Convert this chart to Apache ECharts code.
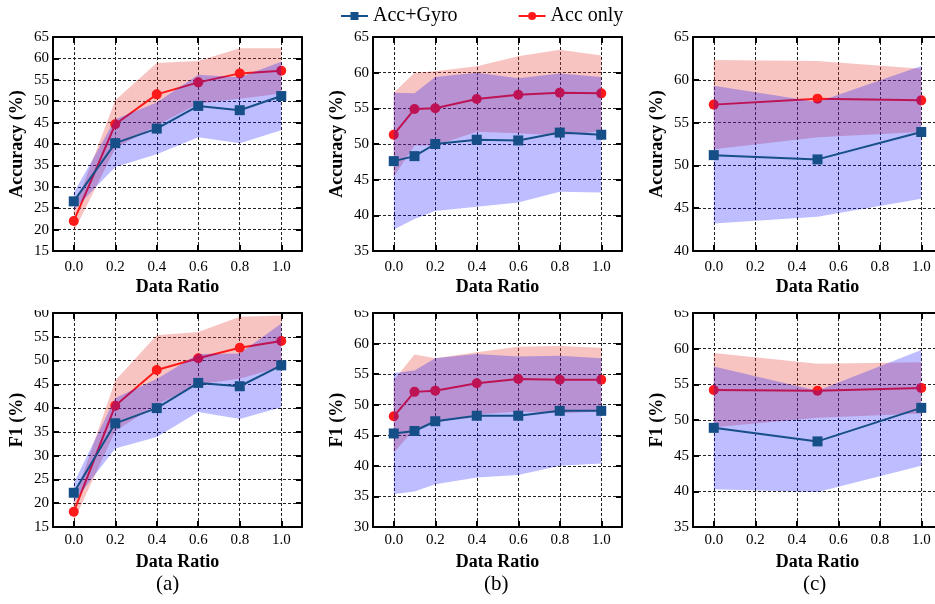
<!DOCTYPE html>
<html>
<head>
<meta charset="utf-8">
<title>Accuracy / F1 vs data ratio</title>
<script src="https://cdn.jsdelivr.net/npm/echarts@6/dist/echarts.min.js"></script>
<style>
  html, body { margin: 0; padding: 0; background: #fff; }
  #chart { width: 935px; height: 604px; }
</style>
</head>
<body>
<div id="chart"></div>
<script>
// --- Data ---

const ratioSix = [0.0, 0.2, 0.4, 0.6, 0.8, 1.0]
const ratioSeven = [0.0, 0.1, 0.2, 0.4, 0.6, 0.8, 1.0]
const ratioThree = [0.0, 0.5, 1.0]
const xTicks = [0.0, 0.2, 0.4, 0.6, 0.8, 1.0]

// (a) accuracy
const accA_gyro = [26.6, 40.2, 43.6, 48.9, 47.9, 51.2]
const accA_gyroLo = [24.6, 34.6, 37.6, 41.6, 40.2, 43.2]
const accA_gyroHi = [28.6, 45.8, 49.7, 56.2, 55.6, 59.2]
const accA_acc = [22.0, 44.6, 51.6, 54.4, 56.5, 57.1]
const accA_accLo = [19.5, 39.0, 44.3, 49.4, 50.6, 51.8]
const accA_accHi = [24.5, 50.2, 58.9, 59.4, 62.4, 62.4]

// (b) accuracy
const accB_gyro = [47.6, 48.3, 50.0, 50.6, 50.5, 51.6, 51.3]
const accB_gyroLo = [38.0, 39.5, 40.6, 41.2, 41.8, 43.3, 43.2]
const accB_gyroHi = [57.2, 57.1, 59.4, 60.0, 59.2, 59.9, 59.4]
const accB_acc = [51.3, 54.9, 55.0, 56.3, 56.9, 57.2, 57.1]
const accB_accLo = [45.4, 49.8, 49.8, 51.7, 51.5, 51.2, 51.8]
const accB_accHi = [57.2, 60.0, 60.2, 60.9, 62.3, 63.2, 62.4]

// (c) accuracy
const accC_gyro = [51.2, 50.7, 53.9]
const accC_gyroLo = [43.2, 44.0, 46.1]
const accC_gyroHi = [59.3, 57.4, 61.6]
const accC_acc = [57.1, 57.8, 57.6]
const accC_accLo = [51.9, 53.3, 53.9]
const accC_accHi = [62.3, 62.2, 61.3]

// (a) F1
const f1A_gyro = [22.2, 36.8, 40.0, 45.3, 44.6, 49.0]
const f1A_gyroLo = [20.2, 31.5, 33.9, 39.2, 37.7, 40.2]
const f1A_gyroHi = [24.2, 42.1, 46.1, 51.4, 51.5, 57.8]
const f1A_acc = [18.2, 40.5, 48.0, 50.5, 52.7, 54.1]
const f1A_accLo = [16.2, 35.2, 40.7, 45.0, 46.2, 48.7]
const f1A_accHi = [20.4, 45.8, 55.3, 56.0, 59.2, 59.5]

// (b) F1
const f1B_gyro = [45.3, 45.7, 47.3, 48.2, 48.2, 49.0, 49.0]
const f1B_gyroLo = [35.4, 35.8, 37.0, 38.1, 38.5, 40.0, 40.4]
const f1B_gyroHi = [55.2, 55.6, 57.6, 58.3, 57.9, 58.0, 57.6]
const f1B_acc = [48.1, 52.1, 52.3, 53.5, 54.2, 54.1, 54.1]
const f1B_accLo = [42.2, 46.0, 47.0, 48.4, 48.9, 48.6, 48.9]
const f1B_accHi = [54.0, 58.2, 57.6, 58.6, 59.5, 59.6, 59.3]

// (c) F1
const f1C_gyro = [48.9, 47.0, 51.7]
const f1C_gyroLo = [40.3, 39.9, 43.6]
const f1C_gyroHi = [57.5, 54.1, 59.8]
const f1C_acc = [54.2, 54.1, 54.5]
const f1C_accLo = [49.0, 50.3, 50.9]
const f1C_accHi = [59.4, 57.9, 58.1]

const panels = [
  { x: ratioSix, yMin: 15, yMax: 65, yName: 'Accuracy (%)', g: accA_gyro, gLo: accA_gyroLo, gHi: accA_gyroHi, a: accA_acc, aLo: accA_accLo, aHi: accA_accHi },
  { x: ratioSeven, yMin: 35, yMax: 65, yName: 'Accuracy (%)', g: accB_gyro, gLo: accB_gyroLo, gHi: accB_gyroHi, a: accB_acc, aLo: accB_accLo, aHi: accB_accHi },
  { x: ratioThree, yMin: 40, yMax: 65, yName: 'Accuracy (%)', g: accC_gyro, gLo: accC_gyroLo, gHi: accC_gyroHi, a: accC_acc, aLo: accC_accLo, aHi: accC_accHi },
  { x: ratioSix, yMin: 15, yMax: 60, yName: 'F1 (%)', g: f1A_gyro, gLo: f1A_gyroLo, gHi: f1A_gyroHi, a: f1A_acc, aLo: f1A_accLo, aHi: f1A_accHi },
  { x: ratioSeven, yMin: 30, yMax: 65, yName: 'F1 (%)', g: f1B_gyro, gLo: f1B_gyroLo, gHi: f1B_gyroHi, a: f1B_acc, aLo: f1B_accLo, aHi: f1B_accHi },
  { x: ratioThree, yMin: 35, yMax: 65, yName: 'F1 (%)', g: f1C_gyro, gLo: f1C_gyroLo, gHi: f1C_gyroHi, a: f1C_acc, aLo: f1C_accLo, aHi: f1C_accHi },
]

// --- Layout / style ---
const GRID_LEFT = [53, 373, 693]
const GRID_TOP = [37, 313]
const GRID_W = 249
const GRID_H = 214
const SERIF = '"Liberation Serif", "Times New Roman", serif'
const BLUE = '#164f88'
const RED = '#ff1a1a'
const BLUE_BAND = 'rgba(0, 0, 255, 0.26)'
const RED_BAND = 'rgba(230, 60, 50, 0.3)'

const tickStyle = { inside: true, length: 6, lineStyle: { color: '#000', width: 2 } }
const lineAxis = { onZero: false, lineStyle: { color: '#000', width: 2 } }
const dashed = { show: true, lineStyle: { color: '#222', width: 1, type: [3, 2] } }
const titleFont = { fontFamily: SERIF, fontWeight: 'bold', fontSize: 18, color: '#000' }

// Band between lower and upper curves, drawn as one polygon via the axes
const bandSeries = (xs, lo, hi, color, axisIdx, z) => ({
  type: 'custom',
  xAxisIndex: axisIdx,
  yAxisIndex: axisIdx,
  z,
  silent: true,
  clip: true,
  data: xs.map((x, k) => [x, lo[k], hi[k]]),
  encode: { x: 0, y: [1, 2] },
  renderItem: (params, api) => {
    if (params.dataIndex !== 0) return
    const pts = []
    xs.forEach((x, k) => pts.push(api.coord([x, lo[k]])))
    for (let k = xs.length - 1; k >= 0; k--) pts.push(api.coord([xs[k], hi[k]]))
    return { type: 'polygon', shape: { points: pts }, style: { fill: color } }
  },
})

const lineSeries = (name, xs, ys, color, symbol, axisIdx, z) => ({
  name,
  type: 'line',
  xAxisIndex: axisIdx,
  yAxisIndex: axisIdx,
  z,
  data: xs.map((x, k) => [x, ys[k]]),
  symbol,
  symbolSize: 10,
  showSymbol: true,
  lineStyle: { color, width: 2 },
  itemStyle: { color },
})

const grid = []
const xAxis = []
const yAxis = []
const series = []

panels.forEach((p, i) => {
  const col = i % 3
  const row = Math.floor(i / 3)
  grid.push({
    left: GRID_LEFT[col],
    top: GRID_TOP[row],
    width: GRID_W,
    height: GRID_H,
    outerBoundsMode: 'none',
  })

  // bottom + top x axes
  xAxis.push({
    gridIndex: i,
    type: 'value',
    min: -0.1,
    max: 1.1,
    name: 'Data Ratio',
    nameLocation: 'middle',
    nameGap: row === 0 ? 27 : 26,
    nameTextStyle: titleFont,
    axisLine: lineAxis,
    axisTick: { ...tickStyle, customValues: xTicks },
    axisLabel: {
      customValues: xTicks,
      formatter: (v) => v.toFixed(1),
      fontFamily: SERIF,
      fontSize: 15,
      color: '#000',
      margin: row === 0 ? 9 : 6,
    },
    splitLine: dashed,
  })
  xAxis.push({
    gridIndex: i,
    type: 'value',
    position: 'top',
    min: -0.1,
    max: 1.1,
    axisLine: lineAxis,
    axisTick: { ...tickStyle, customValues: xTicks },
    axisLabel: { show: false },
    splitLine: { show: false },
  })

  // left + right y axes
  yAxis.push({
    gridIndex: i,
    type: 'value',
    min: p.yMin,
    max: p.yMax,
    interval: 5,
    name: p.yName,
    nameLocation: 'middle',
    nameGap: 27,
    nameTextStyle: titleFont,
    axisLine: lineAxis,
    axisTick: tickStyle,
    axisLabel: { fontFamily: SERIF, fontSize: 15, color: '#000', margin: 4 },
    splitLine: dashed,
  })
  yAxis.push({
    gridIndex: i,
    type: 'value',
    position: 'right',
    min: p.yMin,
    max: p.yMax,
    interval: 5,
    axisLine: lineAxis,
    axisTick: tickStyle,
    axisLabel: { show: false },
    splitLine: { show: false },
  })

  const ax = 2 * i
  // draw order: red band, red line, blue band, blue line
  series.push(bandSeries(p.x, p.aLo, p.aHi, RED_BAND, ax, 1))
  series.push(lineSeries('Acc only', p.x, p.a, RED, 'circle', ax, 2))
  series.push(bandSeries(p.x, p.gLo, p.gHi, BLUE_BAND, ax, 3))
  series.push(lineSeries('Acc+Gyro', p.x, p.g, BLUE, 'rect', ax, 4))
})

const captions = ['(a)', '(b)', '(c)']
const captionX = [168, 496, 815]

const graphic = []
captions.forEach((c, k) => {
  graphic.push({
    type: 'text',
    left: captionX[k] - 12,
    top: 574,
    style: { text: c, font: '21px ' + SERIF, fill: '#000' },
  })
  // the lower row is cut off at the top in the original figure
  graphic.push({
    type: 'rect',
    z: 100,
    shape: { x: GRID_LEFT[k] - 40, y: 296, width: 38, height: 14 },
    style: { fill: '#fff' },
  })
})

const chart = echarts.init(document.getElementById('chart'), null, { renderer: 'canvas' })
chart.setOption({
  animation: false,
  backgroundColor: '#fff',
  legend: {
    data: ['Acc+Gyro', 'Acc only'],
    left: 335,
    top: 1,
    itemWidth: 27,
    itemHeight: 10,
    itemGap: 60,
    textStyle: { fontFamily: SERIF, fontSize: 20, color: '#000' },
  },
  grid,
  xAxis,
  yAxis,
  series,
  graphic,
})
</script>
</body>
</html>
